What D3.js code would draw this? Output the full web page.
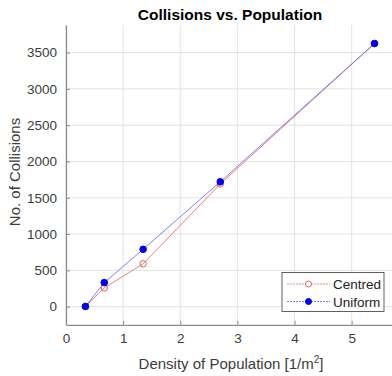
<!DOCTYPE html>
<html><head><meta charset="utf-8">
<script src="https://cdn.jsdelivr.net/npm/d3@7"></script>
<style>body{margin:0;background:#fff}svg{display:block;font-family:"Liberation Sans",Arial,sans-serif}</style>
</head><body><svg id="c" width="392" height="376"></svg>
<script>
const density = [0.34, 0.67, 1.35, 2.7, 5.4];
const centred = [3, 258, 590, 1690, 3625];
const uniform = [3, 331, 790, 1720, 3625];
const xTicks = [0, 1, 2, 3, 4, 5, 6];
const yTicks = [0, 500, 1000, 1500, 2000, 2500, 3000, 3500];
const seriesNames = ["Centred", "Uniform"];

const svg = d3.select("#c");
const x = d3.scaleLinear().domain([0, 6]).range([66, 408.8]);
const y = d3.scaleLinear().domain([-250, 3880]).range([324.8, 25]);

// grid
svg.append("g").selectAll("line").data(xTicks).join("line")
  .attr("x1", d => x(d)).attr("x2", d => x(d)).attr("y1", y(-250)).attr("y2", y(3880))
  .attr("stroke", "#e3e3e3").attr("stroke-width", 1);
svg.append("g").selectAll("line").data(yTicks).join("line")
  .attr("x1", x(0)).attr("x2", x(6)).attr("y1", d => y(d)).attr("y2", d => y(d))
  .attr("stroke", "#e3e3e3").attr("stroke-width", 1);

// axes
const xAxis = d3.axisBottom(x).tickValues(xTicks.slice(0, 6)).tickFormat(d3.format("d")).tickSizeInner(-4).tickSizeOuter(0).tickPadding(9);
const gx = svg.append("g").attr("transform", `translate(0,${y(-250)})`).call(xAxis);
const yAxis = d3.axisLeft(y).tickValues(yTicks).tickFormat(d3.format("d")).tickSizeInner(-4).tickSizeOuter(0).tickPadding(9);
const gy = svg.append("g").attr("transform", `translate(${x(0)},0)`).call(yAxis);
[gx, gy].forEach(g => {
  g.attr("font-family", "Liberation Sans, Arial, sans-serif");
  g.select(".domain").attr("stroke", "#8c8c8c").attr("stroke-width", 1.3);
  g.selectAll(".tick line").attr("stroke", "#8c8c8c");
  g.selectAll(".tick text").attr("fill", "#3c3c3c").attr("font-size", 13.5);
});

// lines
const line = d3.line().x(d => x(d[0])).y(d => y(d[1]));
const cData = density.map((d, i) => [d, centred[i]]);
const uData = density.map((d, i) => [d, uniform[i]]);
svg.append("path").datum(cData).attr("d", line).attr("fill", "none").attr("stroke", "#e88080").attr("stroke-width", 1);
svg.append("path").datum(uData).attr("d", line).attr("fill", "none").attr("stroke", "#7070ee").attr("stroke-width", 0.9);
svg.append("g").selectAll("circle").data(cData).join("circle")
  .attr("cx", d => x(d[0])).attr("cy", d => y(d[1])).attr("r", 3.2)
  .attr("fill", "none").attr("stroke", "#e06060").attr("stroke-width", 1);
svg.append("g").selectAll("circle").data(uData).join("circle")
  .attr("cx", d => x(d[0])).attr("cy", d => y(d[1])).attr("r", 3.3)
  .attr("fill", "#0000ee").attr("stroke", "#0000ee");

// title and labels
svg.append("text").attr("x", 230).attr("y", 20).attr("text-anchor", "middle")
  .attr("font-size", 15.5).attr("font-weight", "bold").attr("fill", "#000").text("Collisions vs. Population");
const xl = svg.append("text").attr("x", 231).attr("y", 369).attr("text-anchor", "middle")
  .attr("font-size", 15).attr("fill", "#3c3c3c");
xl.append("tspan").text("Density of Population [1/m");
xl.append("tspan").attr("font-size", 10).attr("dy", -6).text("2");
xl.append("tspan").attr("dy", 6).text("]");
svg.append("text").attr("transform", "translate(20,172) rotate(-90)").attr("text-anchor", "middle")
  .attr("font-size", 15).attr("fill", "#3c3c3c").text("No. of Collisions");

// legend
const lg = svg.append("g");
lg.append("rect").attr("x", 282).attr("y", 272.5).attr("width", 102).attr("height", 39)
  .attr("fill", "#fff").attr("stroke", "#3a3a3a").attr("stroke-width", 0.8);
seriesNames.forEach((name, i) => {
  const yy = 284 + i * 17.5;
  lg.append("line").attr("x1", 287).attr("x2", 330).attr("y1", yy).attr("y2", yy)
    .attr("stroke", i ? "#7070ee" : "#e88080").attr("stroke-width", 0.9).attr("stroke-dasharray", "2,1");
  const c = lg.append("circle").attr("cx", 308.5).attr("cy", yy).attr("r", 3);
  if (i) c.attr("fill", "#0000ee").attr("stroke", "#0000ee");
  else c.attr("fill", "#fff").attr("stroke", "#e06060").attr("stroke-width", 1);
  lg.append("text").attr("x", 333).attr("y", yy + 5).attr("font-size", 13.5).attr("fill", "#222").text(name);
});
</script></body></html>
